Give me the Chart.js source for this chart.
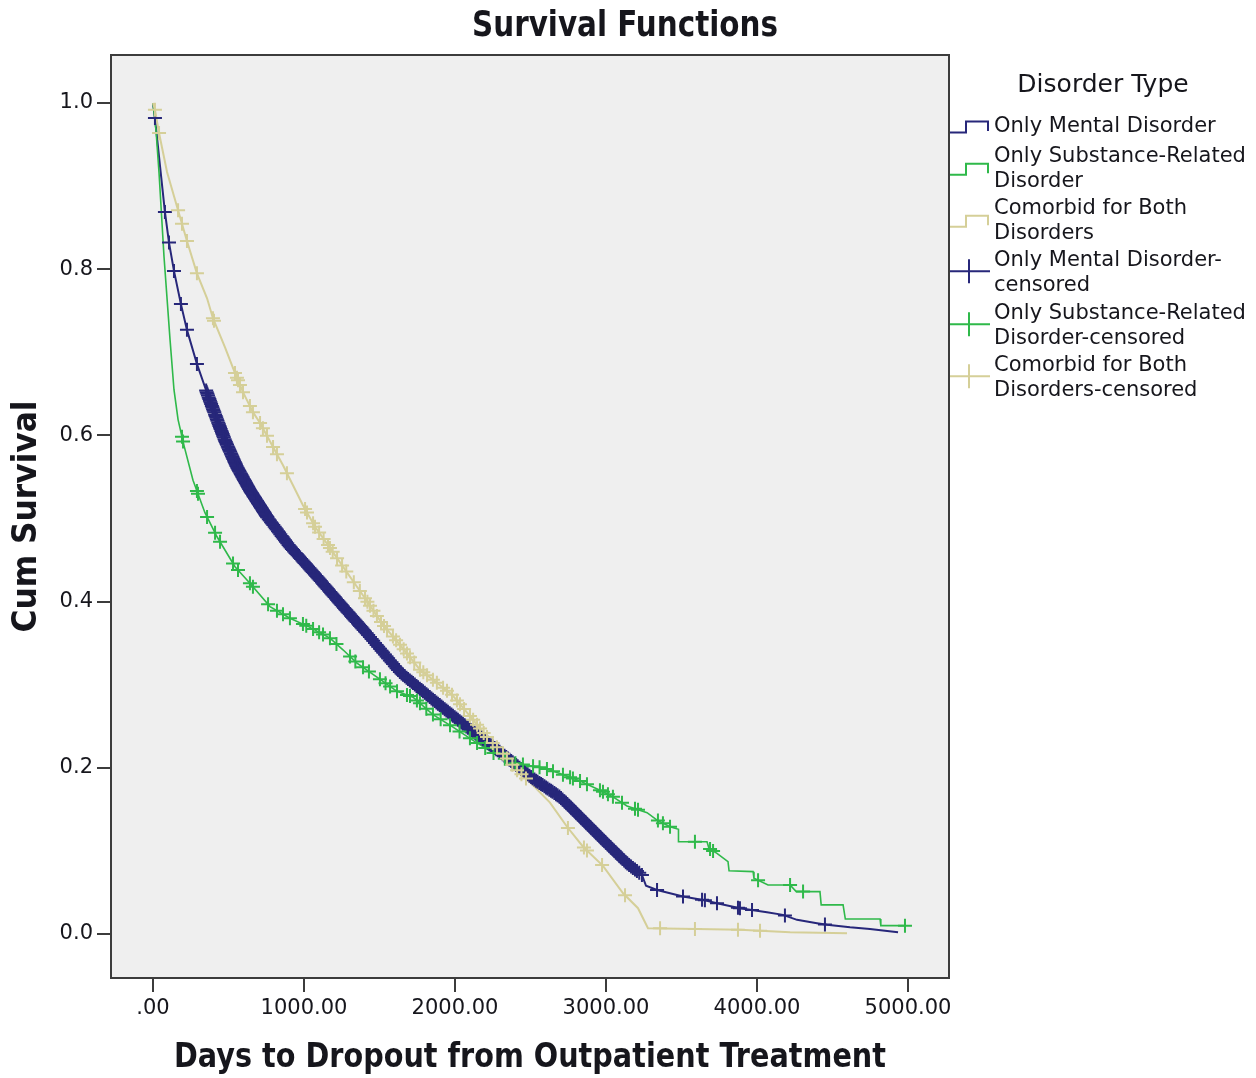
<!DOCTYPE html>
<html>
<head>
<meta charset="utf-8">
<title>Survival Functions</title>
<script src="https://cdn.jsdelivr.net/npm/chart.js@4.4.1/dist/chart.umd.min.js"></script>
<style>
  html, body { margin: 0; padding: 0; background: #ffffff; }
  canvas { display: block; }
</style>
</head>
<body>
<canvas id="survival" width="1256" height="1078"></canvas>
<script>
// ---- Kaplan-Meier estimates: curve vertices (days, cumulative survival) ----
const mentalDays = [0, 13, 46, 79, 106, 139, 185, 225, 291, 358, 424, 477, 556, 642, 755, 907, 1086, 1258, 1424, 1636,
  1854, 2079, 2298, 2517, 2695, 2762, 2894, 3026, 3139, 3238, 3265, 3338, 3510, 3642, 3735, 3887, 4066, 4172, 4265, 4397,
  4464, 4616, 4748, 4934];
const mentalSurv = [1.000, 0.982, 0.925, 0.869, 0.832, 0.798, 0.758, 0.727, 0.686, 0.651, 0.619, 0.594, 0.562, 0.534, 0.502, 0.466, 0.430, 0.394, 0.360, 0.315,
  0.282, 0.249, 0.219, 0.187, 0.165, 0.153, 0.129, 0.105, 0.085, 0.071, 0.058, 0.053, 0.045, 0.041, 0.037, 0.031, 0.026, 0.023, 0.017, 0.013,
  0.011, 0.008, 0.006, 0.002];

const substanceDays = [0, 20, 40, 73, 113, 139, 166, 205, 265, 344, 424, 543, 642, 775, 907, 1040, 1172, 1258, 1351, 1483,
  1616, 1722, 1854, 1987, 2119, 2252, 2384, 2477, 2583, 2695, 2828, 2960, 3046, 3139, 3272, 3338, 3424, 3480, 3480, 3669,
  3682, 3735, 3808, 3815, 3974, 3980, 4073, 4219, 4260, 4417, 4425, 4570, 4585, 4815, 4820, 4980];
const substanceSurv = [1.000, 0.967, 0.916, 0.815, 0.715, 0.655, 0.619, 0.588, 0.546, 0.507, 0.478, 0.442, 0.422, 0.394, 0.380, 0.369, 0.356, 0.342, 0.326, 0.309,
  0.292, 0.285, 0.264, 0.249, 0.233, 0.218, 0.206, 0.203, 0.200, 0.193, 0.184, 0.173, 0.165, 0.154, 0.146, 0.137, 0.129, 0.126, 0.111, 0.111,
  0.103, 0.097, 0.087, 0.076, 0.075, 0.067, 0.059, 0.059, 0.051, 0.051, 0.035, 0.035, 0.018, 0.018, 0.010, 0.010];

const comorbidDays = [0, 13, 40, 93, 166, 225, 291, 358, 397, 477, 543, 596, 662, 709, 795, 861, 927, 993, 1073, 1159,
  1258, 1404, 1523, 1636, 1768, 1854, 1980, 2119, 2212, 2298, 2411, 2517, 2629, 2742, 2848, 2980, 3113, 3212, 3278, 3603,
  3887, 4219, 4596];
const comorbidSurv = [1.000, 0.992, 0.964, 0.917, 0.871, 0.834, 0.795, 0.765, 0.741, 0.706, 0.675, 0.652, 0.628, 0.615, 0.586, 0.564, 0.540, 0.516, 0.490, 0.468,
  0.442, 0.404, 0.372, 0.348, 0.318, 0.306, 0.288, 0.258, 0.237, 0.221, 0.197, 0.179, 0.158, 0.129, 0.105, 0.082, 0.049, 0.031, 0.007, 0.006,
  0.005, 0.002, 0.001];

// ---- Censored cases (days); each mark sits on its group's curve ----
const mentalCensored = [13, 79, 106, 139, 185, 225, 291,
  352, 356, 360, 364, 369, 373, 377, 381, 385, 390, 394, 398, 402, 406, 411, 415, 419, 423, 427, 432, 436, 440, 444, 448,
  453, 457, 461, 465, 469, 474, 478, 482, 486, 490, 495, 499, 503, 507, 511, 516, 520, 524, 528, 532, 537, 541, 545, 549,
  553, 558, 562, 566, 570, 574, 579, 583, 587, 591, 595, 600, 604, 608, 612, 616, 621, 625, 629, 633, 637, 642, 646, 650,
  654, 658, 663, 667, 671, 675, 679, 684, 688, 692, 696, 700, 705, 709, 713, 717, 721, 726, 730, 734, 738, 742, 747, 751,
  755, 759,
  767, 774, 782, 789, 797, 806, 813, 820, 828, 835, 843, 852, 859, 866, 874,
  881, 889, 898, 905, 912, 920, 927, 935, 944, 951, 958, 966, 973, 981, 990, 997, 1004, 1012, 1019, 1027, 1036, 1043, 1050,
  1058, 1065, 1073, 1082, 1089, 1096, 1104, 1111, 1119, 1128, 1135, 1142, 1150, 1157, 1165, 1174, 1181, 1188, 1196, 1203,
  1211, 1220, 1227, 1234, 1242, 1249, 1257, 1266, 1273, 1280, 1288, 1295, 1303, 1312, 1319, 1326, 1334, 1341, 1349, 1358,
  1365, 1372, 1380, 1387, 1395,
  1404, 1415, 1425, 1437, 1448, 1458, 1470, 1481, 1491, 1503, 1514, 1524, 1536, 1547, 1557, 1569, 1580, 1590, 1602, 1613,
  1623, 1635, 1646, 1656, 1668, 1679, 1689, 1701, 1712, 1722, 1734, 1745, 1755, 1767, 1778, 1788, 1800, 1811, 1821, 1833,
  1844, 1854, 1866, 1877, 1887, 1899, 1910, 1920, 1932, 1943, 1953, 1965, 1976, 1986, 1998, 2009, 2019, 2031, 2042, 2052,
  2064, 2075, 2085, 2097, 2108, 2118, 2130, 2141, 2151, 2163, 2174, 2184, 2196, 2207, 2217, 2229, 2240, 2250, 2262, 2273,
  2283, 2295, 2306, 2316, 2328, 2339, 2349, 2361, 2372, 2382, 2394, 2405, 2415, 2427, 2438, 2448, 2460, 2471, 2481, 2493,
  2504, 2514, 2526, 2537, 2547, 2559, 2570, 2580, 2592, 2603, 2613, 2625, 2636, 2646, 2658, 2669, 2679, 2691, 2702, 2712,
  2724, 2735, 2745, 2757, 2768, 2778, 2790, 2801, 2811, 2823, 2834, 2844, 2856, 2867, 2877, 2889, 2900, 2910, 2922, 2933,
  2943, 2955, 2966, 2976, 2988, 2999, 3009, 3021, 3032, 3042, 3054, 3065, 3075, 3087, 3098, 3108, 3120, 3131, 3141, 3153,
  3166, 3178, 3192, 3205, 3220, 3238,
  3338, 3510, 3636, 3655, 3735, 3874, 3887, 3967, 4185, 4450];

const substanceCensored = [192, 199, 291, 298, 358, 411, 444, 530, 563, 642, 662, 762, 821, 861, 907, 993, 1015, 1060, 1100, 1126,
  1172, 1215, 1305, 1340, 1391, 1430, 1503, 1540, 1570, 1616, 1682, 1702, 1748, 1768, 1810, 1854, 1905, 1967, 2030, 2099,
  2146, 2200, 2255, 2330, 2400, 2450, 2517, 2560, 2609, 2649, 2715, 2762, 2781, 2828, 2874, 2960, 2980, 3013, 3046, 3106,
  3192, 3212, 3344, 3377, 3424, 3589, 3689, 3709, 4007, 4219, 4305, 4980];

const comorbidCensored = [13, 40, 166, 192, 225, 291, 397, 404, 543, 556, 563, 576, 596, 642, 662, 709, 728, 755, 795, 821,
  887, 1007, 1020, 1060, 1073, 1100, 1130, 1159, 1172, 1190, 1219, 1252, 1280, 1330, 1370, 1404, 1420, 1437, 1460, 1483,
  1510, 1530, 1550, 1589, 1610, 1636, 1660, 1682, 1702, 1730, 1768, 1790, 1815, 1854, 1880, 1921, 1947, 1980, 2013, 2033,
  2060, 2099, 2120, 2146, 2166, 2190, 2212, 2250, 2278, 2318, 2344, 2380, 2411, 2440, 2470, 2748, 2854, 2874, 2974, 3126,
  3358, 3589, 3874, 4020];

// ---- Axis ticks ----
const xTicks = [0, 1000, 2000, 3000, 4000, 5000];
const xTickLabels = ['.00', '1000.00', '2000.00', '3000.00', '4000.00', '5000.00'];
const yTicks = [0, 0.2, 0.4, 0.6, 0.8, 1.0];
const yTickLabels = ['0.0', '0.2', '0.4', '0.6', '0.8', '1.0'];

// ---- Legend entries ----
const legendTitle = 'Disorder Type';
const legendLines = [
  ['Only Mental Disorder'],
  ['Only Substance-Related', 'Disorder'],
  ['Comorbid for Both', 'Disorders'],
  ['Only Mental Disorder-', 'censored'],
  ['Only Substance-Related', 'Disorder-censored'],
  ['Comorbid for Both', 'Disorders-censored']
];

const COLORS = { mental: '#27277a', substance: '#2fb94a', comorbid: '#d5cf98' };
const FONT = '"DejaVu Sans", "Liberation Sans", sans-serif';
const TEXT = '#16161c';

function curvePoints(days, surv) {
  return days.map((d, i) => ({ x: d, y: surv[i] }));
}

// value of the drawn curve at day t
function onCurve(days, surv, t) {
  for (let i = days.length - 1; i >= 0; i--) {
    if (days[i] <= t) {
      if (i === days.length - 1) return surv[i];
      const t0 = days[i], t1 = days[i + 1];
      if (t1 === t0) return surv[i + 1];
      return surv[i] + (surv[i + 1] - surv[i]) * (t - t0) / (t1 - t0);
    }
  }
  return surv[0];
}

function censorPoints(days, surv, times) {
  return times.map(t => ({ x: t, y: onCurve(days, surv, t) }));
}

function lineSet(label, days, surv, color, width, order) {
  return {
    type: 'line', label, data: curvePoints(days, surv),
    borderColor: color, borderWidth: width, pointRadius: 0, tension: 0,
    fill: false, order
  };
}

function censorSet(label, days, surv, times, color, order) {
  return {
    type: 'scatter', label, data: censorPoints(days, surv, times),
    showLine: false, pointStyle: 'cross', pointRadius: 7, pointHoverRadius: 7,
    borderColor: color, backgroundColor: color, pointBorderWidth: 2, borderWidth: 2, order
  };
}

function fittedText(ctx, text, x, y, size, width, rotate) {
  ctx.save();
  ctx.translate(x, y);
  if (rotate) ctx.rotate(-Math.PI / 2);
  ctx.font = 'bold ' + size + 'px ' + FONT;
  const w = ctx.measureText(text).width;
  ctx.scale(width / w, 1);
  ctx.textAlign = 'center';
  ctx.textBaseline = 'middle';
  ctx.fillStyle = TEXT;
  ctx.fillText(text, 0, 0);
  ctx.restore();
}

const frameAndText = {
  id: 'frameAndText',
  beforeDraw(chart) {
    const { ctx, chartArea: a } = chart;
    ctx.save();
    ctx.fillStyle = '#ffffff';
    ctx.fillRect(0, 0, chart.width, chart.height);
    ctx.fillStyle = '#efefef';
    ctx.fillRect(a.left, a.top, a.right - a.left, a.bottom - a.top);
    ctx.restore();
  },
  afterDraw(chart) {
    const { ctx, chartArea: a } = chart;
    ctx.save();
    // plot frame
    ctx.strokeStyle = '#3c3c3c';
    ctx.lineWidth = 2;
    ctx.strokeRect(a.left, a.top, a.right - a.left, a.bottom - a.top);

    // titles
    fittedText(ctx, 'Survival Functions', 625, 27, 36, 306, false);
    fittedText(ctx, 'Days to Dropout from Outpatient Treatment', (a.left + a.right) / 2, 1058, 33, 712, false);
    fittedText(ctx, 'Cum Survival', 27, (a.top + a.bottom) / 2, 33, 232, true);

    // legend
    ctx.fillStyle = TEXT;
    ctx.textBaseline = 'middle';
    ctx.textAlign = 'center';
    ctx.font = '25px ' + FONT;
    ctx.fillText(legendTitle, 1103, 85);

    ctx.textAlign = 'left';
    ctx.font = '21px ' + FONT;
    const firstLineY = [127, 157, 209, 261, 314, 366];
    const colors = [COLORS.mental, COLORS.substance, COLORS.comorbid, COLORS.mental, COLORS.substance, COLORS.comorbid];
    const iconX0 = a.right + 1, iconX1 = a.right + 41;
    legendLines.forEach((lines, i) => {
      ctx.fillStyle = TEXT;
      lines.forEach((ln, j) => ctx.fillText(ln, 994, firstLineY[i] + j * 24.5));
      const mid = firstLineY[i] + (lines.length - 1) * 12.25;
      ctx.strokeStyle = colors[i];
      ctx.lineWidth = 2;
      ctx.beginPath();
      if (i < 3) {
        ctx.moveTo(iconX0, mid + 5.5);
        ctx.lineTo(iconX0 + 16, mid + 5.5);
        ctx.lineTo(iconX0 + 16, mid - 5.5);
        ctx.lineTo(iconX1 - 2, mid - 5.5);
        ctx.lineTo(iconX1 - 2, mid + 4);
      } else {
        const c = mid - 2;
        ctx.moveTo(iconX0, c);
        ctx.lineTo(iconX1, c);
        ctx.moveTo(iconX0 + 19, c - 12);
        ctx.lineTo(iconX0 + 19, c + 12);
      }
      ctx.stroke();
    });
    ctx.restore();
  }
};

const tickFont = { family: FONT, size: 21 };

new Chart(document.getElementById('survival'), {
  data: {
    datasets: [
      lineSet('Only Mental Disorder', mentalDays, mentalSurv, COLORS.mental, 2, 6),
      lineSet('Only Substance-Related Disorder', substanceDays, substanceSurv, COLORS.substance, 1.6, 5),
      lineSet('Comorbid for Both Disorders', comorbidDays, comorbidSurv, COLORS.comorbid, 2, 4),
      censorSet('Only Mental Disorder-censored', mentalDays, mentalSurv, mentalCensored, COLORS.mental, 3),
      censorSet('Only Substance-Related Disorder-censored', substanceDays, substanceSurv, substanceCensored, COLORS.substance, 2),
      censorSet('Comorbid for Both Disorders-censored', comorbidDays, comorbidSurv, comorbidCensored, COLORS.comorbid, 1)
    ]
  },
  options: {
    responsive: false,
    animation: false,
    events: [],
    layout: { padding: { top: 55, right: 307, bottom: 0, left: 0 } },
    plugins: { legend: { display: false }, tooltip: { enabled: false }, title: { display: false } },
    scales: {
      x: {
        type: 'linear', position: 'bottom',
        min: -278.1, max: 5271.5,
        afterBuildTicks: s => { s.ticks = xTicks.map(v => ({ value: v })); },
        afterFit: s => { s.height = 100; },
        ticks: {
          callback: (v, i) => xTickLabels[i], font: tickFont, color: TEXT,
          padding: 4, autoSkip: false, maxRotation: 0
        },
        grid: { drawOnChartArea: false, drawTicks: true, tickLength: 14, color: '#3c3c3c', lineWidth: 2 },
        border: { display: false },
        title: { display: false }
      },
      y: {
        type: 'linear', position: 'left',
        min: -0.0530, max: 1.0578,
        afterBuildTicks: s => { s.ticks = yTicks.map(v => ({ value: v })); },
        afterFit: s => { s.width = 111; },
        ticks: { callback: (v, i) => yTickLabels[i], font: tickFont, color: TEXT, padding: 4 },
        grid: { drawOnChartArea: false, drawTicks: true, tickLength: 14, color: '#3c3c3c', lineWidth: 2 },
        border: { display: false },
        title: { display: false }
      }
    }
  },
  plugins: [frameAndText]
});
</script>
</body>
</html>
